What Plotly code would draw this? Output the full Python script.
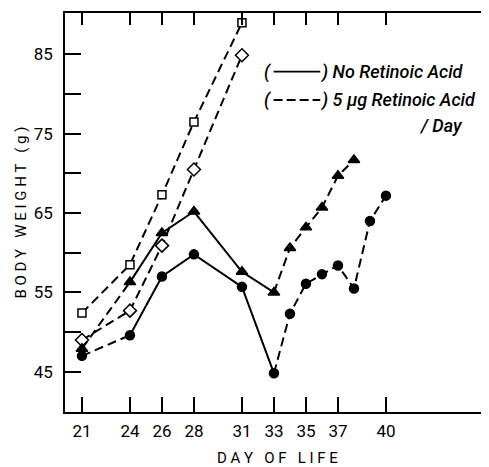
import plotly.graph_objects as go

# ---- data ----
days_sq = [21, 24, 26, 28, 31]
wt_sq = [52.4, 58.5, 67.3, 76.5, 89.0]

days_dia = [21, 24, 26, 28, 31]
wt_dia = [49.0, 52.7, 60.9, 70.5, 84.9]

days_tri = [21, 24, 26, 28, 31, 33, 34, 35, 36, 37, 38]
wt_tri = [47.9, 56.3, 62.5, 65.2, 57.6, 55.0, 60.6, 63.2, 65.7, 69.7, 71.7]

days_cir = [21, 24, 26, 28, 31, 33, 34, 35, 36, 37, 38, 39, 40]
wt_cir = [47.0, 49.6, 57.0, 59.8, 55.7, 44.8, 52.3, 56.1, 57.3, 58.4, 55.5, 64.0, 67.2]

x_ticks = [21, 24, 26, 28, 31, 33, 35, 37, 40]
y_ticks = [45, 50, 55, 60, 65, 70, 75, 80, 85]
y_ticktext = ["45", "", "55", "", "65", "", "75", "", "85"]

legend_labels = ["No Retinoic Acid", "5 μg Retinoic Acid"]

# segments: (start index, end index inclusive, dashed?)
seg_tri = [(0, 1, True), (1, 5, False), (5, 10, True)]
seg_cir = [(0, 1, True), (1, 5, False), (5, 12, True)]

DASH = "9px,5px"
LW = 2
BLACK = "black"

fig = go.Figure()


def add_segments(xs, ys, segs, symbol, size):
    for a, b, dashed in segs:
        fig.add_trace(go.Scatter(
            x=xs[a:b + 1], y=ys[a:b + 1], mode="lines",
            line=dict(color=BLACK, width=LW, dash=DASH if dashed else "solid"),
            hoverinfo="skip", showlegend=False))
    fig.add_trace(go.Scatter(
        x=xs, y=ys, mode="markers",
        marker=dict(symbol=symbol, size=size, color=BLACK,
                    line=dict(color=BLACK, width=1.5)),
        showlegend=False))


fig.add_trace(go.Scatter(x=days_sq, y=wt_sq, mode="lines",
                         line=dict(color=BLACK, width=LW, dash=DASH),
                         showlegend=False, hoverinfo="skip"))
fig.add_trace(go.Scatter(x=days_sq, y=wt_sq, mode="markers",
                         marker=dict(symbol="square", size=8, color="white",
                                     line=dict(color=BLACK, width=1.5)),
                         showlegend=False))
fig.add_trace(go.Scatter(x=days_dia, y=wt_dia, mode="lines",
                         line=dict(color=BLACK, width=LW, dash=DASH),
                         showlegend=False, hoverinfo="skip"))
fig.add_trace(go.Scatter(x=days_dia, y=wt_dia, mode="markers",
                         marker=dict(symbol="diamond", size=10, color="white",
                                     line=dict(color=BLACK, width=1.5)),
                         showlegend=False))
add_segments(days_tri, wt_tri, seg_tri, "triangle-up", 10)
add_segments(days_cir, wt_cir, seg_cir, "circle", 9)

TICKFONT = dict(family="Roboto, sans-serif", size=17, color=BLACK)
TITLEFONT = dict(family="Roboto, sans-serif", size=15, color=BLACK)

XR = [19.94, 46.44]
YR = [39.92, 90.23]

# page body has an 8px margin, so the figure is 8px smaller than the window
fig.update_layout(
    width=481, height=459,
    margin=dict(l=57, r=0, t=5, b=55, autoexpand=False),
    plot_bgcolor="white", paper_bgcolor="white",
    xaxis=dict(range=XR, tickvals=x_ticks, ticks="inside", ticklen=15,
               tickwidth=1.5, tickcolor=BLACK, showline=True, linecolor=BLACK,
               linewidth=1.5, mirror=True, showgrid=False, zeroline=False,
               tickfont=TICKFONT, ticklabelstandoff=3, automargin=False),
    xaxis2=dict(range=XR, tickvals=x_ticks, ticks="inside", ticklen=12,
                tickwidth=1.5, tickcolor=BLACK, overlaying="x", side="top",
                showticklabels=False, showgrid=False, zeroline=False,
                anchor="y", automargin=False),
    yaxis=dict(range=YR, tickvals=y_ticks, ticktext=y_ticktext, ticks="inside",
               ticklen=16, tickwidth=1.5, tickcolor=BLACK, showline=True,
               linecolor=BLACK, linewidth=1.5, mirror=False, showgrid=False,
               zeroline=False, tickfont=TICKFONT, ticklabelstandoff=7,
               automargin=False),
    yaxis2=dict(range=YR, tickvals=y_ticks, ticks="inside", ticklen=7,
                tickwidth=1.5, tickcolor=BLACK, overlaying="y", side="right",
                anchor="x", showticklabels=False, showgrid=False,
                zeroline=False, showline=False, automargin=False),
)

# dummy trace to activate secondary axes
fig.add_trace(go.Scatter(x=[None], y=[None], xaxis="x2", yaxis="y2",
                         showlegend=False, hoverinfo="skip"))

# axis titles (letter-spaced)
fig.add_annotation(text="D A Y   O F   L I F E", x=0.5, y=-0.115,
                   xref="paper", yref="paper", xanchor="center", yanchor="middle",
                   showarrow=False, font=TITLEFONT)
fig.add_annotation(text="B O D Y   W E I G H T   ( g )", x=-0.106, y=0.5,
                   xref="paper", yref="paper", xanchor="center", yanchor="middle",
                   showarrow=False, font=TITLEFONT, textangle=-90)

# in-plot legend: "(" + line sample + ") label"
LEGFONT = dict(family="Roboto, sans-serif", size=18, color=BLACK, weight=500)
leg_y = [0.853, 0.782]
leg_dash = ["solid", "9px,4px"]
for lab, yy, dsh in zip(legend_labels, leg_y, leg_dash):
    fig.add_annotation(text="<i>(</i>", x=0.490, y=yy, xref="paper", yref="paper",
                       xanchor="right", yanchor="middle", showarrow=False,
                       font=LEGFONT)
    fig.add_annotation(text="<i>) " + lab + "</i>", x=0.600, y=yy,
                       xref="paper", yref="paper", xanchor="left",
                       yanchor="middle", showarrow=False, font=LEGFONT)
    fig.add_shape(type="line", xref="paper", yref="paper", x0=0.492, x1=0.602,
                  y0=yy, y1=yy, line=dict(color=BLACK, width=1.8, dash=dsh))
fig.add_annotation(text="<i>/ Day</i>", x=0.943, y=0.719, xref="paper",
                   yref="paper", xanchor="right", yanchor="middle",
                   showarrow=False, font=LEGFONT)

fig.write_html("out.html")
